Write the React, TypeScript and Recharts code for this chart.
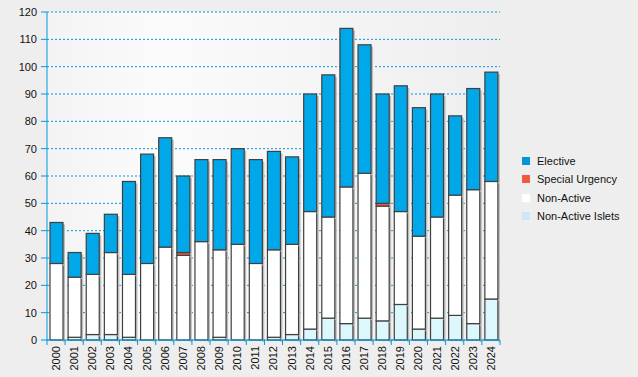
import { Bar, BarChart, CartesianGrid, Legend, XAxis, YAxis } from "recharts";

const years = [
  "2000", "2001", "2002", "2003", "2004", "2005", "2006", "2007", "2008", "2009",
  "2010", "2011", "2012", "2013", "2014", "2015", "2016", "2017", "2018", "2019",
  "2020", "2021", "2022", "2023", "2024",
];
const islets = [0, 1, 2, 2, 1, 0, 0, 0, 0, 1, 0, 0, 1, 2, 4, 8, 6, 8, 7, 13, 4, 8, 9, 6, 15];
const nonActive = [28, 22, 22, 30, 23, 28, 34, 31, 36, 32, 35, 28, 32, 33, 43, 37, 50, 53, 42, 34, 34, 37, 44, 49, 43];
const specialUrgency = [0, 0, 0, 0, 0, 0, 0, 1, 0, 0, 0, 0, 0, 0, 0, 0, 0, 0, 1, 0, 0, 0, 0, 0, 0];
const elective = [15, 9, 15, 14, 34, 40, 40, 28, 30, 33, 35, 38, 36, 32, 43, 52, 58, 47, 40, 46, 47, 45, 29, 37, 40];
const yTicks = [0, 10, 20, 30, 40, 50, 60, 70, 80, 90, 100, 110, 120];

const BLUE = "#0099dd";
const FONT = "'Liberation Sans', Arial, sans-serif";

const series = [
  { key: "islets", name: "Non-Active Islets", fill: "#dcf8fc", swatch: "#cce8f8" },
  { key: "nonActive", name: "Non-Active", fill: "#ffffff", swatch: "#ffffff" },
  { key: "special", name: "Special Urgency", fill: "#f05a40", swatch: "#f05a40" },
  { key: "elective", name: "Elective", fill: "#00a8ea", swatch: "#0095d9" },
];

const data = years.map((year, i) => ({
  year,
  islets: islets[i],
  nonActive: nonActive[i],
  special: specialUrgency[i],
  elective: elective[i],
}));

function BarShape(props: any) {
  const { x, y, width, height, fill } = props;
  if (!height || height <= 0) return null;
  return (
    <g>
      <rect x={x + width} y={y + 2} width={2} height={height} fill="#bdbdbd" />
      <rect x={x} y={y} width={width} height={height} fill={fill} stroke="#404040" strokeWidth={1.2} />
    </g>
  );
}

function XTick(props: any) {
  const { x, y, payload, index, width, visibleTicksCount } = props;
  const band = width && visibleTicksCount ? width / visibleTicksCount : 18.12;
  const top = y - 8;
  return (
    <g>
      <line x1={x - band / 2} x2={x - band / 2} y1={top} y2={top + 5} stroke={BLUE} />
      {index === visibleTicksCount - 1 && (
        <line x1={x + band / 2} x2={x + band / 2} y1={top} y2={top + 5} stroke={BLUE} />
      )}
      <text
        x={x}
        y={top + 6}
        transform={`rotate(-90, ${x}, ${top + 6})`}
        textAnchor="end"
        dy="0.36em"
        fontSize={11}
        fontFamily={FONT}
        fill="#111"
      >
        {payload.value}
      </text>
    </g>
  );
}

function LegendContent() {
  const items = [...series].reverse();
  return (
    <div style={{ fontFamily: FONT, fontSize: 11, color: "#111" }}>
      {items.map((s) => (
        <div key={s.key} style={{ display: "flex", alignItems: "center", height: 18.3 }}>
          <span style={{ display: "inline-block", width: 8, height: 8, background: s.swatch, marginRight: 7 }} />
          <span>{s.name}</span>
        </div>
      ))}
    </div>
  );
}

export default function App() {
  return (
    <div style={{ position: "absolute", left: 0, top: 0, width: 638, height: 377, background: "#eeeeee" }}>
      <BarChart
        width={638}
        height={377}
        data={data}
        margin={{ top: 12, right: 138, left: 0, bottom: 0 }}
        barSize={13}
      >
        <defs>
          <linearGradient id="plotBg" x1="0" y1="0" x2="1" y2="0">
            <stop offset="0%" stopColor="#f3f3f3" />
            <stop offset="25%" stopColor="#fbfbfb" />
            <stop offset="100%" stopColor="#eeeeee" />
          </linearGradient>
        </defs>
        <CartesianGrid
          vertical={false}
          stroke={BLUE}
          strokeDasharray="2 2"
          fill="url(#plotBg)"
          fillOpacity={1}
        />
        <XAxis
          dataKey="year"
          interval={0}
          height={37}
          axisLine={{ stroke: BLUE }}
          tickLine={false}
          tick={<XTick />}
        />
        <YAxis
          width={47}
          domain={[0, 120]}
          ticks={yTicks}
          interval={0}
          axisLine={{ stroke: BLUE }}
          tickLine={{ stroke: BLUE }}
          tickSize={6}
          tickMargin={4}
          tick={{ fontSize: 11, fontFamily: FONT, fill: "#111" }}
        />
        <Legend
          layout="horizontal"
          align="center"
          verticalAlign="middle"
          wrapperStyle={{ left: 522, top: 152, width: 116 }}
          content={<LegendContent />}
        />
        {series.map((s) => (
          <Bar
            key={s.key}
            dataKey={s.key}
            name={s.name}
            stackId="a"
            fill={s.fill}
            shape={<BarShape />}
            isAnimationActive={false}
          />
        ))}
      </BarChart>
    </div>
  );
}
